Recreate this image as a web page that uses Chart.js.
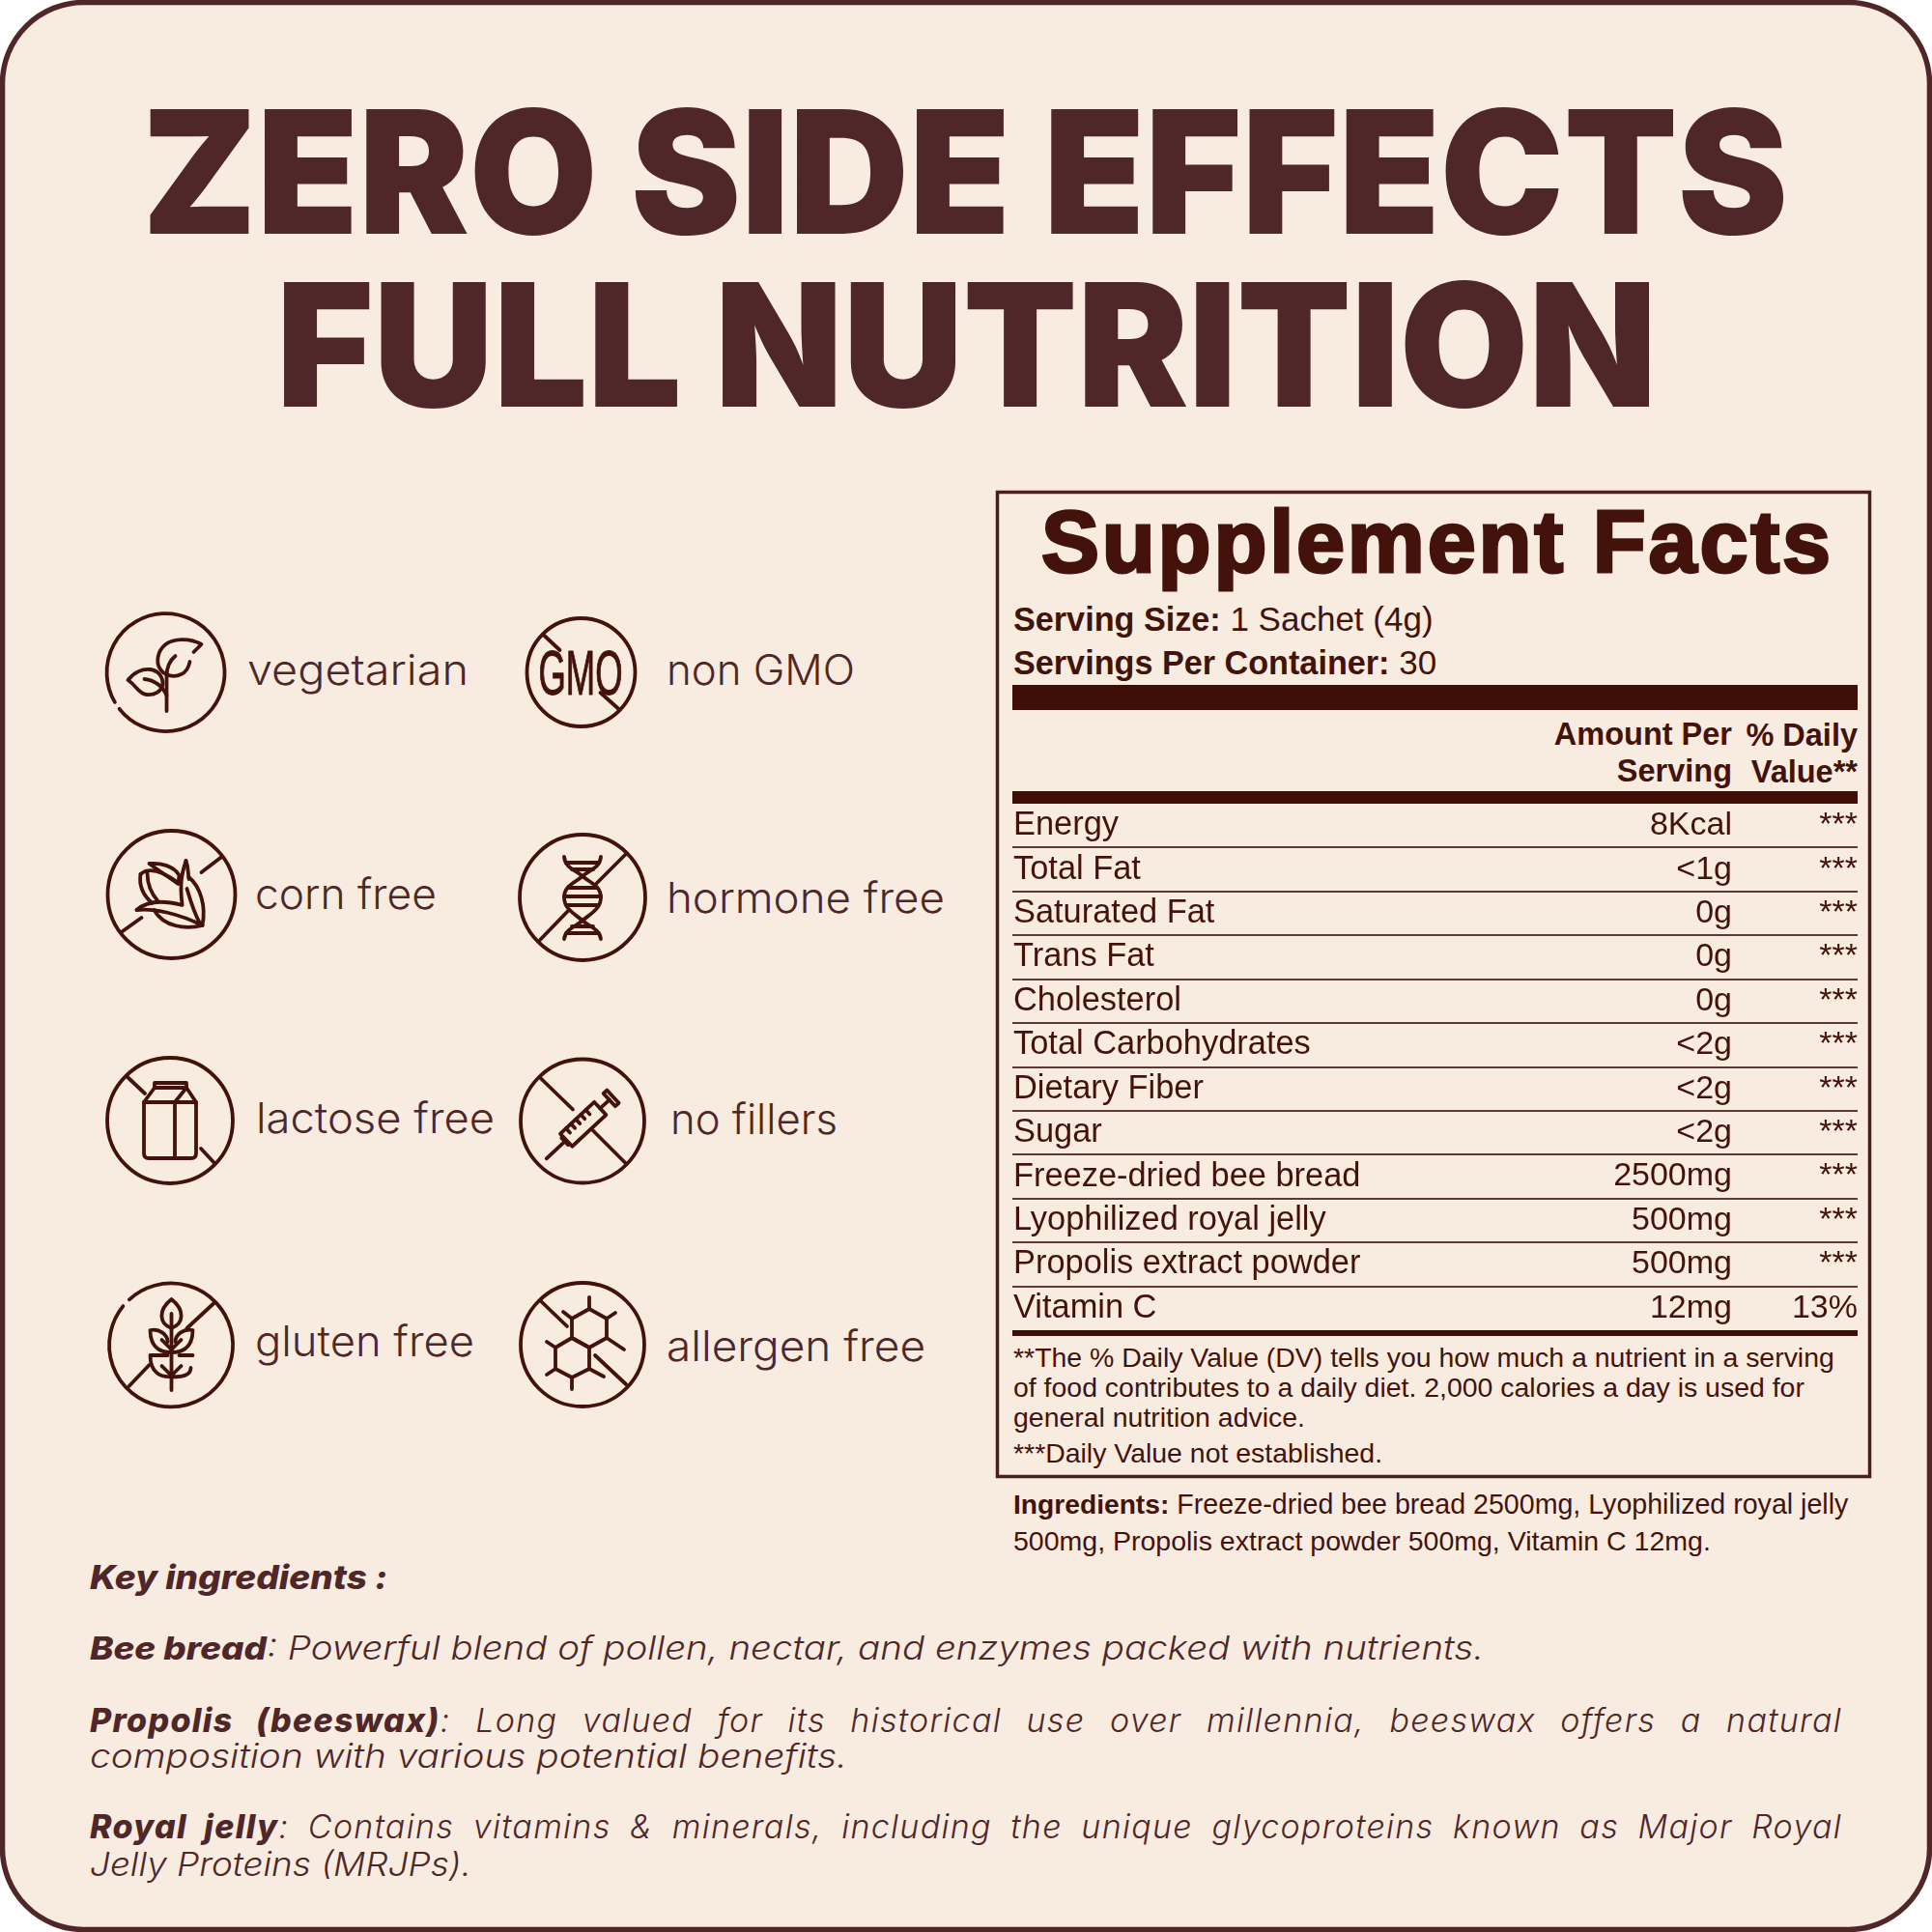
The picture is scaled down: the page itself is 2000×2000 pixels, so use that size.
<!DOCTYPE html>
<html>
<head>
<meta charset="utf-8">
<title>Zero side effects, full nutrition</title>
<script src="https://cdn.jsdelivr.net/npm/chart.js@4"></script>
<style>
  html, body { margin: 0; padding: 0; background: #fff; }
  #page { position: relative; width: 2000px; height: 2000px; overflow: hidden; }
  #art { position: absolute; left: 0; top: 0; }
  #factsChart { position: absolute; left: 1048px; top: 832px; }
</style>
</head>
<body>
<div id="page">
  <svg id="art" width="2000" height="2000" viewBox="0 0 2000 2000" xmlns="http://www.w3.org/2000/svg"></svg>
  <canvas id="factsChart" width="875" height="545"></canvas>
</div>
<script>
// table data
const nutrients = ['Energy', 'Total Fat', 'Saturated Fat', 'Trans Fat', 'Cholesterol', 'Total Carbohydrates',
    'Dietary Fiber', 'Sugar', 'Freeze-dried bee bread', 'Lyophilized royal jelly', 'Propolis extract powder', 'Vitamin C'];
const amounts = ['8Kcal', '<1g', '0g', '0g', '0g', '<2g', '<2g', '<2g', '2500mg', '500mg', '500mg', '12mg'];
const dailyValues = ['***', '***', '***', '***', '***', '***', '***', '***', '***', '***', '***', '13%'];

// page text
const titleLines = ['ZERO SIDE EFFECTS', 'FULL NUTRITION'];
const badgeLabels = ['vegetarian', 'non GMO', 'corn free', 'hormone free', 'lactose free', 'no fillers', 'gluten free', 'allergen free'];
const footnotes = ['**The % Daily Value (DV) tells you how much a nutrient in a serving',
    'of food contributes to a daily diet. 2,000 calories a day is used for',
    'general nutrition advice.',
    '***Daily Value not established.'];

const BROWN = '#4f2729';
const DARK = '#43130b';
const SANS = 'Liberation Sans';
const POP = 'Inter';
const NS = 'http://www.w3.org/2000/svg';
const art = document.getElementById('art');

function el(name, attrs, parent) {
    let e = document.createElementNS(NS, name);
    for (let k in attrs) e.setAttribute(k, attrs[k]);
    (parent || art).appendChild(e);
    return e;
}

// parts is a string or a list of [string, weight, size] entries
function text(parts, x, y, size, o) {
    o = o || {};
    let t = el('text', {
        x: x, y: y, 'font-size': size, 'font-family': o.family || SANS, fill: o.fill || DARK,
        'font-weight': o.weight || 400, 'font-style': o.italic ? 'italic' : 'normal',
        'text-anchor': o.anchor || 'start'
    });
    if (typeof parts === 'string') parts = [[parts, o.weight || 400, size]];
    parts.forEach(p => {
        let s = el('tspan', { 'font-weight': p[1], 'font-size': p[2] || size }, t);
        s.textContent = p[0];
    });
    t.style.whiteSpace = 'pre';
    if (o.spacing) t.setAttribute('letter-spacing', o.spacing);
    if (o.stroke) { t.setAttribute('stroke', o.fill || DARK); t.setAttribute('stroke-width', o.stroke); }
    if (o.w) {
        t.setAttribute('textLength', o.w);
        t.setAttribute('lengthAdjust', 'spacingAndGlyphs');
    }
    if (o.justify) {
        let str = parts.map(p => p[0]).join('');
        let gaps = str.split(' ').length - 1;
        t.setAttribute('word-spacing', (o.justify - t.getComputedTextLength()) / gaps);
    }
    return t;
}

// frame and title
el('rect', { x: 2.5, y: 2.5, width: 1995, height: 1995, rx: 84, fill: '#f8ece1', stroke: BROWN, 'stroke-width': 5.5 });
text(titleLines[0], 147, 242, 177.5, { family: POP, weight: 900, fill: BROWN, w: 1704 });
text(titleLines[1], 286, 421, 177.5, { family: POP, weight: 900, fill: BROWN, w: 1429 });

// supplement panel
el('rect', { x: 1032.5, y: 509.5, width: 903, height: 1019, fill: 'none', stroke: '#4a1f1c', 'stroke-width': 3.5 });
text('Supplement Facts', 1078, 592, 90, { weight: 700, stroke: 3, spacing: 2.8 });
text([['Serving Size:', 700, 34.2], [' 1 Sachet (4g)', 400, 35]], 1049, 653, 34);
text([['Servings Per Container:', 700, 34.2], [' 30', 400, 35]], 1049, 698, 34);
el('rect', { x: 1048, y: 709, width: 875, height: 26, fill: '#3f0f07' });
text('Amount Per', 1793, 771, 32.5, { weight: 700, anchor: 'end' });
text('Serving', 1793, 809, 32.5, { weight: 700, anchor: 'end' });
text('% Daily', 1923, 772, 32.5, { weight: 700, anchor: 'end' });
text('Value**', 1923, 810, 32.5, { weight: 700, anchor: 'end' });
el('rect', { x: 1048, y: 819, width: 875, height: 13, fill: '#3f0f07' });
el('rect', { x: 1048, y: 1377, width: 875, height: 6, fill: '#3f0f07' });
text(footnotes[0], 1049, 1415, 28.45);
text(footnotes[1], 1049, 1446, 28.45);
text(footnotes[2], 1049, 1477, 28.45);
text(footnotes[3], 1049, 1514, 28.45);
text([['Ingredients:', 700, 28.2], [' Freeze-dried bee bread 2500mg, Lyophilized royal jelly', 400, 28.6]], 1049, 1567, 28);
text('500mg, Propolis extract powder 500mg, Vitamin C 12mg.', 1049, 1605, 28.5);

// badge captions
const labelStyle = { family: POP, weight: 350, fill: BROWN };
const captionPos = [[256, 709, 229], [690, 709, 195], [264, 941, 188], [690, 945, 288],
    [265, 1173, 247], [694, 1174, 173], [264, 1404, 227], [690, 1409, 268]];
badgeLabels.forEach((s, i) => {
    let p = captionPos[i];
    text(s, p[0], p[1], 44, Object.assign({ w: p[2] }, labelStyle));
});

// line icons, each drawn around its own centre
function icon(cx, cy, paths) {
    let g = el('g', { transform: `translate(${cx},${cy})`, fill: 'none', stroke: DARK, 'stroke-width': 3.8, 'stroke-linecap': 'round', 'stroke-linejoin': 'round' });
    paths.forEach(d => el('path', { d: d }, g));
    return g;
}
function ring(r) {
    return `M${-r},0 A${r},${r} 0 1 1 ${r},0 A${r},${r} 0 1 1 ${-r},0`;
}

// vegetarian
icon(171.5, 696, ['M-47.9,37.8 A61,61 0 1 0 -52.6,30.9', 'M1,40 V4 C1,-6 4,-12 10,-17',
    'M29,-21 L37,-29 C25,-36 8,-35 0,-29 C-9,-22 -10,-10 -6,-4 C-2,3 8,6 16,2 C21,0 24,-6 25,-11',
    'M-39,8 C-33,0 -24,-4 -16,-3 C-8,-2 -3,4 -3,12 C-4,20 -12,24 -20,23 C-28,22 -30,14 -39,8 Z',
    'M-22,7 C-12,8 -3,14 1,24']);
// GMO
let gmo = icon(601.5, 696, [ring(56), 'M-38,-38 L-22,-23', 'M20,21 L39,38']);
let gmoText = el('text', { x: -44, y: 23, 'font-size': 64, 'font-family': SANS, fill: DARK, stroke: DARK, 'stroke-width': 1.2, textLength: 87, lengthAdjust: 'spacingAndGlyphs' }, gmo);
gmoText.textContent = 'GMO';
// corn
icon(177.5, 926, [ring(66), 'M52,-39 L31,-23', 'M-31,24 L-52,39',
    'M32,32 C36,12 30,-8 18,-18', 'M15,-35 C12,-25 8,-16 11,10', 'M15,-35 C18,-27 17,-22 18,-16',
    'M-23,-32 C-12,-33 2,-30 8,-20 L7,-11 C-3,-18 -15,-26 -23,-32',
    'M-32,-21 C-34,-8 -28,2 -20,9', 'M-32,-21 C-24,-28 -12,-26 7,-12', 'M-25,-22 C-25,-10 -20,0 -14,7',
    'M-36,16 C-25,6 -8,6 11,11', 'M-36,16 C-18,14 8,20 32,32', 'M-18,16 C-8,34 15,36 32,32', 'M16,-6 C20,8 24,20 30,31']);
// hormone
icon(603, 929, [ring(65), 'M44,-44 L14,-14', 'M-15,14 L-44,44',
    'M-19,-42 C-18,-30 -6,-28 0,-22 C8,-15 19,-12 19,0 C19,12 8,17 0,24 C-7,30 -18,33 -19,43',
    'M19,-42 C18,-30 6,-28 0,-22 C-8,-15 -19,-12 -19,0 C-19,12 -8,17 0,24 C7,30 18,33 19,43',
    'M-17,-36 H17', 'M-11,-29 H11', 'M-15,-10 H15', 'M-19,-1 H19', 'M-16,8 H16', 'M-11,30 H11', 'M-17,37 H17']);
// lactose
icon(176, 1160, [ring(65), 'M-44,-45 L-26,-28', 'M32,29 L46,44',
    'M-27,-19 H27 V34 Q27,39 22,39 H-22 Q-27,39 -27,34 Z', 'M5,-19 V39',
    'M-27,-19 L-16,-34 H17 L27,-19', 'M5,-19 L17,-34', 'M-16,-34 V-39 H17 V-34']);
// no fillers
let syringe = icon(603, 1160.5, [ring(64), 'M-43,-44 L-10,-12', 'M11,10 L44,43']);
let barrel = el('g', { transform: 'translate(0,4) rotate(-43)' }, syringe);
['M-51,0 H-25', 'M-25,-5 V5', 'M-23,-9 H25 V9 H-23 Z', 'M25,0 H38', 'M38,-9 H43 V9 H38 Z',
    'M-15,-9 V-3', 'M-8,-9 V-3', 'M-1,-9 V-3', 'M6,-9 V-3', 'M13,-9 V-3'].forEach(d => el('path', { d: d }, barrel));
// gluten
icon(177.5, 1392, ['M-43.7,-46.7 A64,64 0 1 1 -50.1,-39.9', 'M44,-43 L16,-17', 'M-23,21 L-44,43',
    'M0,-32 V47', 'M0,-47 C-14,-36 -13,-22 0,-17 C13,-22 14,-36 0,-47 Z',
    'M0,8 C-8,8 -22,6 -22,-15 C-12,-17 -4,-10 -4,-3', 'M0,8 C8,8 22,6 22,-15 C12,-17 4,-10 4,-3',
    'M0,33 C-10,34 -22,30 -22,11 H-4', 'M0,33 C10,34 20,32 20,24', 'M22,11 H8',
    'M-10,-5 L0,5', 'M10,-5 L0,5', 'M-10,22 L0,32', 'M10,22 L0,32']);
// allergen
icon(603, 1392, [ring(64), 'M-43,-45 L-16,-19', 'M13,11 L45,41',
    'M7,-37 L25,-27 V-7 L7,3 L-11,-7 V-27 Z', 'M-11,-7 L7,3 V25 L-11,34 L-28,25 V3 Z',
    'M7,-37 V-49', 'M25,-27 L34,-33', 'M25,-7 L43,5', 'M-11,-27 L-20,-34', 'M-28,3 L-37,-3', 'M-28,25 L-37,31', 'M-11,34 V46', 'M7,25 L22,33']);

// key ingredients
const body = { family: POP, italic: true, fill: BROWN };
text('Key ingredients :', 93, 1645, 34, { family: POP, italic: true, weight: 800, fill: BROWN, w: 308 });
text([['Bee bread', 800, 32.5], [': Powerful blend of pollen, nectar, and enzymes packed with nutrients.', 300, 34]], 93, 1718, 34, Object.assign({ w: 1443 }, body));
text([['Propolis (beeswax)', 800], [': Long valued for its historical use over millennia, beeswax offers a natural', 300]], 93, 1793, 34, Object.assign({ justify: 1814, spacing: 1.3 }, body));
text('composition with various potential benefits.', 93, 1830, 34, Object.assign({ weight: 300, w: 784 }, body));
text([['Royal jelly', 800], [': Contains vitamins & minerals, including the unique glycoproteins known as Major Royal', 300]], 93, 1903, 34, Object.assign({ justify: 1814, spacing: 1.3 }, body));
text('Jelly Proteins (MRJPs).', 93, 1942, 34, Object.assign({ weight: 300, w: 395 }, body));

// the facts rows are a category axis: names as its ticks, rules as its grid,
// amount and daily value columns placed on the same tick positions
const rowColumns = {
    id: 'rowColumns',
    afterDraw(chart) {
        let ctx = chart.ctx;
        let y = chart.scales.y;
        ctx.save();
        ctx.font = `34px "${SANS}"`;
        ctx.fillStyle = DARK;
        ctx.textAlign = 'right';
        ctx.textBaseline = 'middle';
        nutrients.forEach((n, i) => {
            let py = y.getPixelForValue(i);
            ctx.fillText(amounts[i], chart.chartArea.right - 130, py);
            ctx.fillText(dailyValues[i], chart.chartArea.right, py);
        });
        ctx.restore();
    }
};

new Chart(document.getElementById('factsChart'), {
    type: 'line',
    data: {
        labels: nutrients,
        datasets: [{
            data: nutrients.map(n => ({ x: 0, y: n })),
            showLine: false,
            pointRadius: 0
        }]
    },
    options: {
        responsive: false,
        animation: false,
        devicePixelRatio: 1,
        layout: { padding: 0 },
        plugins: { legend: { display: false }, tooltip: { enabled: false } },
        scales: {
            x: { type: 'linear', display: false, min: 0, max: 1 },
            y: {
                type: 'category',
                offset: true,
                border: { display: false },
                // mirrored labels must not pull the plot area in
                afterFit(scale) {
                    scale.width = 0;
                    scale.paddingTop = 0;
                    scale.paddingBottom = 0;
                },
                grid: {
                    offset: true,
                    drawTicks: false,
                    lineWidth: 2,
                    color: c => (c.type === 'tick' && c.index > 0) ? '#5e3a33' : 'rgba(0,0,0,0)'
                },
                ticks: {
                    mirror: true,
                    padding: 1,
                    autoSkip: false,
                    color: DARK,
                    font: { family: SANS, size: 34.4 }
                }
            }
        }
    },
    plugins: [rowColumns]
});
</script>
</body>
</html>
